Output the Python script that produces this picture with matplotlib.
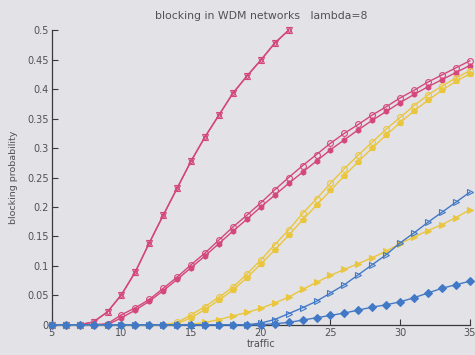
import numpy as np
import matplotlib
matplotlib.use("Agg")
import matplotlib.pyplot as plt

# offered traffic (Erlang)
traffic = list(range(5, 36))

# blocking probability, lambda = 8, for each configuration
pink_steep = [0, 0, 0, 0.005, 0.022, 0.051, 0.090, 0.139, 0.186, 0.232,
              0.278, 0.319, 0.356, 0.393, 0.422, 0.449, 0.478, 0.500]
pink_upper = [0, 0, 0, 0, 0.002, 0.017, 0.029, 0.043, 0.062, 0.081,
              0.102, 0.122, 0.144, 0.166, 0.186, 0.207, 0.229, 0.250, 0.270, 0.289,
              0.308, 0.325, 0.340, 0.356, 0.370, 0.385, 0.398, 0.412, 0.424, 0.436, 0.448]
pink_lower = [0, 0, 0, 0, 0, 0.012, 0.025, 0.040, 0.058, 0.077,
              0.097, 0.117, 0.138, 0.159, 0.179, 0.200, 0.220, 0.240, 0.259, 0.278,
              0.297, 0.314, 0.331, 0.347, 0.362, 0.377, 0.391, 0.404, 0.416, 0.428, 0.440]
yellow_upper = [0, 0, 0, 0, 0, 0, 0, 0, 0, 0.004,
                0.017, 0.031, 0.047, 0.064, 0.086, 0.110, 0.136, 0.161, 0.189, 0.214,
                0.240, 0.265, 0.288, 0.310, 0.332, 0.352, 0.372, 0.390, 0.405, 0.419, 0.431]
yellow_mid = [0, 0, 0, 0, 0, 0, 0, 0, 0, 0.002,
              0.012, 0.026, 0.042, 0.059, 0.080, 0.103, 0.127, 0.152, 0.178, 0.203,
              0.228, 0.253, 0.277, 0.300, 0.322, 0.343, 0.363, 0.381, 0.398, 0.413, 0.426]
yellow_lower = [0, 0, 0, 0, 0, 0, 0, 0, 0, 0,
                0.001, 0.004, 0.009, 0.015, 0.021, 0.028, 0.037, 0.047, 0.060, 0.072,
                0.084, 0.094, 0.104, 0.114, 0.125, 0.138, 0.149, 0.160, 0.170, 0.182, 0.195]
blue_upper = [0, 0, 0, 0, 0, 0, 0, 0, 0, 0,
              0, 0, 0, 0, 0, 0.003, 0.009, 0.019, 0.029, 0.040,
              0.054, 0.068, 0.085, 0.102, 0.119, 0.139, 0.156, 0.174, 0.191, 0.208, 0.225]
blue_lower = [0, 0, 0, 0, 0, 0, 0, 0, 0, 0,
              0, 0, 0, 0, 0, 0, 0.002, 0.004, 0.008, 0.012,
              0.016, 0.020, 0.025, 0.030, 0.034, 0.039, 0.046, 0.054, 0.062, 0.068, 0.074]

x_ticks = [5, 10, 15, 20, 25, 30, 35]
y_ticks = [0, 0.05, 0.1, 0.15, 0.2, 0.25, 0.3, 0.35, 0.4, 0.45, 0.5]
y_tick_labels = ["0", "0.05", "0.1", "0.15", "0.2", "0.25", "0.3", "0.35", "0.4", "0.45", "0.5"]

PINK = "#d4477c"
YELLOW = "#e9c63e"
BLUE = "#4179c6"
BG = "#e3e2e6"
TXT = "#505055"

fig = plt.figure(figsize=(4.75, 3.55), dpi=100, facecolor=BG)
ax = fig.add_axes([0.109, 0.085, 0.880, 0.830], facecolor=BG)

def curve(y, color, marker, filled, ms=4.2, lw=1.0):
    xs = traffic[:len(y)]
    ax.plot(xs, y, color=color, lw=lw, marker=marker, ms=ms,
            mfc=color if filled else "none", mec=color, mew=0.8,
            clip_on=False, zorder=3)

# pink family
curve(pink_steep, PINK, "^", False)
curve(pink_steep, PINK, "v", False, ms=3.8)
curve(pink_upper, PINK, "o", False)
curve(pink_lower, PINK, "h", True, ms=3.8)
# yellow family
curve(yellow_upper, YELLOW, "o", False)
curve(yellow_mid, YELLOW, "p", True, ms=3.8)
curve(yellow_lower, YELLOW, ">", True, ms=3.8)
# blue family
curve(blue_upper, BLUE, ">", False)
curve(blue_lower, BLUE, "D", True, ms=3.8)

ax.set_xlim(5, 35)
ax.set_ylim(0, 0.5)
ax.set_xticks(x_ticks)
ax.set_yticks(y_ticks)
ax.set_yticklabels(y_tick_labels)

for side in ("top", "right"):
    ax.spines[side].set_visible(False)
for side in ("left", "bottom"):
    ax.spines[side].set_color("#3a3a3e")
    ax.spines[side].set_linewidth(0.9)

ax.tick_params(direction="in", length=4, width=0.8, colors="#3a3a3e",
               labelcolor=TXT, labelsize=7, pad=2)

ax.set_title("blocking in WDM networks   lambda=8", fontsize=7.8, color=TXT, pad=8)
ax.set_xlabel("traffic", fontsize=7, color=TXT, labelpad=1)
ax.set_ylabel("blocking probability", fontsize=6.8, color=TXT, labelpad=7)

fig.savefig("out.png", dpi=100, facecolor=BG)
